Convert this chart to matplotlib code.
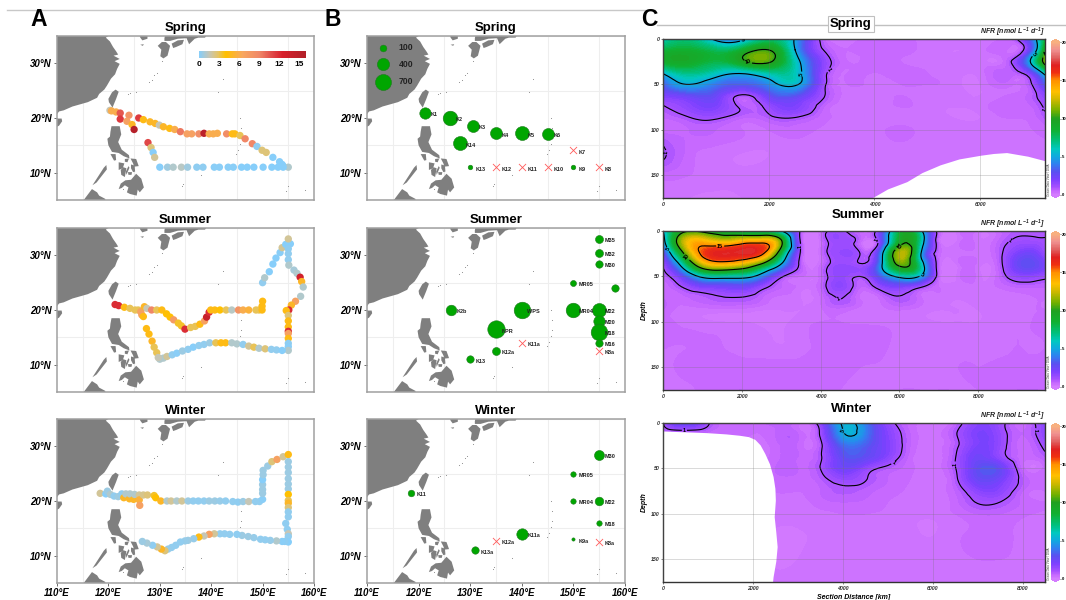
import numpy as np
import matplotlib
matplotlib.use("Agg")
import matplotlib.pyplot as plt
from matplotlib.colors import LinearSegmentedColormap, Normalize
from matplotlib.cm import ScalarMappable
from matplotlib.lines import Line2D
from matplotlib.tri import Triangulation, UniformTriRefiner

plt.rcParams["font.family"] = ["Liberation Sans", "DejaVu Sans"]
plt.rcParams["mathtext.fontset"] = "custom"
plt.rcParams["mathtext.rm"] = "Liberation Sans:bold:italic"
plt.rcParams["mathtext.it"] = "Liberation Sans:bold:italic"

W, H = 1066, 600

# --- land outlines (lon, lat) ---
china = [(110, 35), (120, 35), (119.5, 34.7), (120.3, 34), (120.9, 33), (121.5, 32.2), (121.9, 31.6), (121.0, 31.4), (122.2, 30.8), (121.2, 30.4),
         (122.2, 29.9), (121.7, 29), (121.3, 28), (120.5, 27.2), (119.7, 25.9), (119.2, 25.2), (118.2, 24.4), (117.8, 23.7), (116, 22.9),
         (114.5, 22.5), (113, 22.1), (111.3, 21.4), (110.4, 21.2), (110, 20.7)]
hainan = [(110, 19.9), (110.9, 19.9), (111, 19.4), (110.4, 18.6), (110, 18.4)]
taiwan = [(121.4, 25.2), (122, 24.8), (121.5, 23.5), (120.8, 21.9), (120.1, 22.9), (120, 23.5), (120.7, 24.7)]
korea = [(126.1, 35), (127.6, 35), (127.6, 34.5), (126.6, 34.2), (126.2, 34.7)]
jeju = [(126.2, 33.4), (126.9, 33.5), (126.7, 33.2)]
kyushu = [(129.6, 33.2), (130.4, 33.9), (131.2, 33.9), (132, 33.2), (131.5, 31.4), (130.7, 30.9), (130.1, 31.3), (130.3, 32.5)]
shikoku = [(132.3, 33.6), (133.5, 34.2), (134.7, 34.3), (134.4, 33.5), (133.2, 33.0), (132.6, 32.8)]
honshu = [(130.9, 34.1), (132, 34.1), (133.5, 34.5), (135.2, 34.6), (135.7, 33.5), (136.8, 34.5), (137.5, 34.7), (138.8, 34.7), (139, 35),
          (131, 35), (130.9, 34.6)]
luzon = [(120.6, 18.5), (122.2, 18.5), (122.5, 17), (121.9, 15.6), (122.6, 14.2), (124, 13.2), (124.1, 12.6), (123, 13), (122, 13.6),
         (120.7, 13.8), (120, 15), (119.8, 16.2), (120.3, 16.6), (120.4, 17.5)]
mindoro = [(120.4, 13.4), (121.4, 13.4), (121.5, 12.3), (121.1, 12.2)]
panay = [(122, 11.9), (123.1, 11.7), (122.8, 10.8), (122, 10.5)]
negros = [(122.9, 11), (123.5, 10.8), (123.2, 9.2), (122.5, 9.6), (122.4, 10.5)]
cebu = [(123.9, 11.2), (124.1, 10.9), (123.5, 9.6), (123.4, 10.2)]
bohol = [(123.8, 10.1), (124.6, 10.1), (124.5, 9.6), (123.9, 9.6)]
leyte = [(124.4, 11.5), (125.1, 11.3), (125.2, 10.2), (124.8, 10.1), (124.4, 10.8)]
samar = [(124.3, 12.6), (125.4, 12.5), (125.9, 11.2), (125, 11.1), (124.8, 11.7)]
masbate = [(123.2, 12.5), (124, 12.6), (123.7, 11.9), (123.2, 12)]
palawan = [(116.9, 7.7), (117.7, 8.2), (119.7, 10.6), (119.6, 11.4), (119.1, 10.9)]
mindanao = [(122, 7.0), (122.4, 8), (123.3, 8.6), (124.4, 8.7), (125.4, 9.8), (126.4, 8.9), (126.9, 7.3), (126.1, 6.4), (125.7, 6.9), (125.5, 5.8),
            (124.2, 6.1), (123.6, 6.4), (123.9, 7.3), (123.2, 7.7), (122.6, 7.2)]
borneo = [(115.2, 5), (116.4, 6.5), (116.8, 7), (117.8, 6.4), (118.2, 5.8), (119.4, 5.2), (119.4, 5)]
land_shapes = [china, hainan, taiwan, korea, jeju, kyushu, shikoku, honshu, luzon, mindoro, panay, negros, cebu, bohol, leyte,
               samar, masbate, palawan, mindanao, borneo]
islet_lon = [127.9, 128.4, 128.9, 129.4, 130.5, 125.3, 124.2, 123.8, 142.2, 141.3, 145.7, 145.3, 144.8, 145.8, 145.8, 145.6, 158.2, 134.4, 134.6, 138.1, 122.9, 154.5, 154.9]
islet_lat = [26.5, 27, 27.8, 28.3, 30.4, 24.8, 24.5, 24.3, 27.1, 24.8, 15.2, 14.1, 13.4, 16.4, 18.1, 20, 6.9, 7.5, 8, 9.5, 7, 6.6, 7.6]

# --- panel A tracks ---
spring_track_lon = [120.3, 120.6, 121.5, 122.3, 124, 125.9, 122.3, 123.6, 124.6, 125, 126.8, 128.1, 129.1, 129.9, 130.7, 131.9, 132.9, 134,
                    135.3, 136.2, 137.6, 138.6, 139.6, 140.4, 141.2, 143, 144.1, 144.6, 145.6, 146.6, 148, 148.9, 149.9, 150.7, 152, 153.3, 153.8, 154, 155,
                    130, 131.5, 132.6, 134.2, 135.4, 137.2, 138.4, 140.6, 141.6, 143.3, 144.3, 145.9, 147, 148.3, 150.1, 151.8, 153, 154,
                    127.7, 128.3, 128.7, 129]
spring_track_lat = [21.4, 21.3, 21.1, 20.9, 20.5, 20, 19.8, 19.4, 18.8, 17.9, 19.7, 19.3, 19, 18.7, 18.4, 18.1, 17.9, 17.5,
                    17.1, 17.1, 17.1, 17.2, 17.1, 17.1, 17.2, 17.1, 17.1, 17.1, 16.8, 16.2, 15.3, 14.8, 14.1, 13.7, 12.8, 12, 11.5, 11.2, 11,
                    11, 11, 11, 11, 11, 11, 11, 11, 11, 11, 11, 11, 11, 11, 11, 11, 11, 11,
                    15.5, 14.6, 13.7, 12.8]
spring_track_val = [1.5, 6, 6, 10.5, 8, 11.5, 11.5, 7, 5, 15.5, 4.5, 5, 5, 1.5, 5, 4.5, 6, 9.5,
                    7, 7, 8.5, 15, 6, 6, 6, 8.5, 4.5, 4.5, 3, 9, 9, 0.2, 2.5, 2.5, 0, 0, 0, 0, 1,
                    0, 0.6, 1, 1.2, 0.6, 0.2, 0.2, 0.1, 0.1, 0.1, 0.1, 0, 0, 0, 0, 0, 0, 0,
                    11, 2.5, 0, 2]

summer_track_lon = [121.3, 122, 123.1, 124.2, 125.2, 125.8, 126.3, 126.5, 126.8, 127, 127.5, 128.4, 129.4, 130.4, 131.3, 132, 132.7, 133.6, 134.2, 134.9,
                    136, 136.9, 137.8, 138.7, 139.1, 139.6, 139.9, 140.7, 141.7, 142.9, 144, 145.3, 146.2, 147.3, 148.7, 149.3, 149.9, 149.9, 150,
                    150, 150.4, 151.3, 152, 152.6, 153.4, 153.8, 154.5, 155.4, 155, 155, 155, 155, 155.1, 156.1, 156.7, 157.3, 157.6, 157.9, 157.4, 156.4, 155.6, 155.1, 154.6,
                    155, 155, 155, 155, 155, 155, 155, 155, 155,
                    130, 130.7, 131.4, 132.4, 133.3, 134.4, 135.5, 136.5, 137.6, 138.6, 139.7, 140.9, 141.9, 142.8, 144, 145, 146.2, 147.3, 148.3, 149.3, 150.5, 151.7, 152.7, 153.8,
                    127.4, 127.9, 128.5, 128.9, 129.4, 129.7]
summer_track_lat = [21, 20.8, 20.5, 20.3, 20, 20, 19.7, 19.1, 18.8, 20.6, 20.3, 20, 20, 20, 19.3, 18.7, 18.2, 17.6, 17.1, 16.5,
                    16.8, 17, 17.4, 18, 18.7, 19.6, 20, 20, 20, 20, 20, 20, 20, 20, 20, 20, 20, 20.7, 21.6,
                    25, 25.9, 27, 28.4, 29.5, 30.5, 31.4, 32, 32.1, 33, 31.2, 30.3, 29.2, 28.2, 27.3, 26.7, 26, 25.2, 24.2, 22.5, 21.6, 20.9, 20, 19.9,
                    19, 18, 16.9, 16.1, 15.7, 14.8, 13.9, 13.3, 12.6,
                    11, 11.2, 11.5, 11.8, 12.1, 12.5, 12.8, 13.2, 13.5, 13.7, 14, 14, 14, 14, 14, 13.8, 13.7, 13.4, 13.2, 13, 12.9, 12.8, 12.7, 12.6,
                    16.6, 15.6, 14.3, 13.2, 12.2, 11.3]
summer_track_val = [12, 12, 4.5, 3, 3, 3, 7, 7, 4.5, 5, 1.5, 9, 3, 4.5, 4, 4, 7.5, 3.5, 3.5, 12,
                    3, 3, 4.5, 7, 14, 12, 4.5, 4.5, 4, 3, 1.2, 8, 6, 5.5, 3, 3, 4.5, 4.5, 4.5,
                    0.3, 1, 0, 0, 0, 0.1, 2, 0, 0, 2, 0.2, 0.3, 0.3, 1, 0.8, 1, 13, 5, 1, 1, 7, 5, 12, 4.5,
                    2.5, 4.5, 4.5, 12, 7, 4.5, 0.2, 0.1, 1,
                    1, 1, 2, 0.3, 0.1, 0.5, 0.3, 0, 0.3, 0.3, 0.5, 3, 4.5, 4.5, 1, 1, 0.3, 2, 3, 1, 2.5, 0.3, 0.3, 0,
                    4.5, 4.5, 5, 3, 3, 1.5]

winter_track_lon = [118.4, 119.5, 119.8, 120.4, 121.1, 121.9, 122.6, 123, 123.4, 124.1, 124.2, 124.9, 125.1, 126, 126, 126.1, 126.8, 127.6, 128.9, 129.2, 130.2,
                    131.4, 132.2, 133.3, 134.3, 135.5, 136.5, 137.5, 138.6, 139.6, 140.7, 141.7, 142.8, 144.2, 145.2, 146.2, 147.3, 148.6, 149.4,
                    150, 150, 150, 150, 150, 150.1, 150.1, 151, 151.8, 152.8, 154, 155,
                    155, 155, 155, 155, 155, 155, 155, 155, 155, 155, 155, 155, 154.5, 154.8, 155, 155, 155, 154.3, 153.8,
                    152.7, 151.5, 150.5, 149.6, 148.3, 147.2, 146, 145, 143.6, 142.6, 141.7, 140.6, 139.6, 138.6, 137.6, 136.6, 135.5, 134.9, 134, 133.1, 132.3, 131.6, 131,
                    130.3, 129.5, 128.6, 127.5, 126.6]
winter_track_lat = [21.4, 21.3, 21.8, 21.2, 20.9, 20.8, 21.3, 20.6, 21.3, 20.4, 21.3, 20.3, 21.2, 21.1, 20.2, 19.2, 21.1, 21.1, 21, 20.6, 20,
                    20, 20, 20, 20, 20, 20, 20, 20, 20, 20, 20, 20, 19.9, 19.8, 19.9, 19.9, 19.9, 19.9,
                    20.3, 21.4, 22.1, 23, 23.9, 24.8, 25.6, 26.4, 27.2, 27.6, 28.1, 28.5,
                    27.2, 26.2, 25.2, 24.1, 23.1, 22.2, 21.2, 20.1, 19.6, 18.8, 18, 17.1, 15.9, 14.8, 14, 13.5, 12.5, 12.6, 12.6,
                    12.7, 12.8, 12.9, 13, 13.3, 13.5, 13.7, 13.9, 13.9, 14, 14, 14, 13.9, 13.6, 13.4, 13.1, 12.8, 12.7, 12.5, 11.9, 11.5, 11.2, 10.9,
                    11.2, 11.6, 11.9, 12.3, 12.6]
winter_track_val = [2, 0, 0.5, 1, 0.3, 0.6, 0.3, 5, 1, 5, 1, 5, 1, 2, 5.5, 7, 2.2, 2.5, 3.5, 4, 5,
                    1, 2, 1, 2, 0.5, 0.3, 0.3, 0.3, 0.5, 0.5, 0.4, 0.3, 0.3, 0.2, 0.5, 1.5, 0.3, 0.3,
                    0.1, 0.5, 0.5, 0.5, 0, 0.5, 0.5, 0.5, 2.5, 7, 2, 4.5,
                    0.5, 0.5, 0.5, 0.5, 0.5, 0.5, 4, 3, 5, 2.5, 0.3, 0.3, 0.2, 0.2, 1.5, 0.3, 0, 0.2, 0.1,
                    1, 0.4, 0.3, 0.3, 0.4, 0.5, 0.5, 0.2, 0.3, 0.3, 0.3, 2, 7, 1.5, 4.5, 0.4, 0.5, 0.4, 0.3, 0.3, 0.3, 0.4, 2.5,
                    5, 2, 0.2, 0.8, 0.5]

track_ticks = [0, 3, 6, 9, 12, 15]

# --- panel B stations, value 0 means not detected (cross) ---
spring_names = ["K1", "K2", "K3", "K4", "K5", "K6", "K7", "K8", "K9", "K10", "K11", "K12", "K13", "K14"]
spring_lon = [121.3, 126, 130.5, 135, 140, 145, 150, 155, 150, 145, 140, 135, 130, 128]
spring_lat = [21, 20, 18.6, 17.2, 17.2, 17.1, 14.1, 11, 11, 11, 11, 11, 11, 15.4]
spring_rate = [341, 577, 381, 381, 528, 381, 0, 0, 32, 0, 0, 0, 32, 528]

summer_names = ["M35", "M32", "M30", "MR05", "", "K2b", "WPS", "MR04", "M22", "M20", "M18", "M16", "K8a", "K11a", "NPR", "K12a", "K13"]
summer_lon = [155, 155, 155, 150, 158, 126.3, 140, 150, 155, 155, 155, 155, 155, 140, 135, 135, 130]
summer_lat = [33, 30.5, 28.5, 25, 24, 20, 20, 20, 20, 18, 16, 14, 12.5, 14, 16.5, 12.5, 11]
summer_rate = [153, 153, 127, 74, 127, 290, 755, 577, 528, 341, 755, 127, 0, 0, 832, 153, 127]

winter_names = ["M30", "MR05", "K11", "MR04", "M22", "M18", "K11a", "K9a", "K12a", "K8a", "K13a"]
winter_lon = [155, 150, 118.5, 150, 155, 155, 140, 150, 135, 155, 131]
winter_lat = [28.5, 25, 21.5, 20, 20, 16, 14, 13, 12.7, 12.5, 11]
winter_rate = [256, 55, 95, 55, 182, 55, 341, 1, 0, 0, 127]

size_legend = [100, 400, 700]

# --- panel C sections ---
section_depth = [0, 12, 25, 37, 50, 62, 75, 87, 100, 125, 150, 175]

spring_dist = [0, 500, 1000, 1500, 2000, 2500, 3000, 3500, 4000, 4500, 5000, 5500, 6000, 6500, 7000, 7226]
spring_nfr = [
    [6, 7, 4.5, 4.5, 7, 4.8, 0.8, 0.3, 0.4, 0.5, 0.3, 0.3, 0.3, 0.4, 4, 8],
    [8, 8.5, 7.5, 8.5, 10, 5, 1.1, 0.4, 0.5, 0.5, 0.3, 0.2, 0.3, 0.4, 3.5, 9.5],
    [8.5, 9, 8, 9.5, 10.3, 6, 1.8, 0.4, 0.5, 0.4, 0.3, 0.3, 0.3, 0.6, 6, 11],
    [5.3, 7, 6, 5.3, 6.5, 6, 1.6, 0.4, 0.4, 0.5, 0.4, 0.3, 0.3, 0.7, 2.5, 6],
    [3.2, 5, 3.8, 3.2, 4.2, 5.3, 1.5, 0.4, 0.3, 0.4, 0.4, 0.3, 0.2, 0.5, 1.1, 3],
    [2, 2.6, 2.5, 0.9, 2.5, 3, 1.2, 0.3, 0.3, 0.4, 0.3, 0.3, 0.2, 0.4, 0.8, 1.6],
    [0.9, 1.6, 1.9, 0.85, 1.3, 1.9, 0.7, 0.3, 0.3, 0.4, 0.3, 0.2, 0.3, 0.5, 0.6, 1.1],
    [0.6, 0.95, 1.1, 0.6, 0.8, 0.95, 0.5, 0.3, 0.3, 0.3, 0.3, 0.2, 0.2, 0.4, 0.5, 0.8],
    [0.5, 0.6, 0.6, 0.4, 0.4, 0.5, 0.35, 0.2, 0.3, 0.45, 0.3, 0.3, 0.3, 0.3, 0.4, 0.5],
    [1.1, 0.5, 0.3, 0.2, 0.2, 0.3, 0.3, 0.3, 0.3, 0.3, 0.3, 0.35, 0.3, 0.3, 0.3, 0.3],
    [0.5, 0.4, 0.3, 0.25, 0.3, 0.3, 0.3, 0.3, 0.3, 0.3, 0.3, 0.3, 0.3, 0.3, 0.3, 0.3],
    [0.4, 0.2, 0.1, 0.2, 0.3, 0.3, 0.3, 0.3, 0.3, 0.3, 0.3, 0.3, 0.3, 0.3, 0.3, 0.3],
]
spring_gap_dist = [3950, 4250, 4612, 4900, 5243, 5600, 6000, 6250, 6500, 6900, 7226]
spring_gap_depth = [175, 165, 157, 147, 138.5, 132, 128, 126, 125, 129, 134]

summer_dist = [0, 500, 1000, 1500, 2000, 2500, 3000, 3500, 4000, 4500, 5000, 5500, 6000, 6500, 7000, 7500, 8000, 8500, 9000, 9500, 9695]
summer_nfr = [
    [5, 9.5, 9.5, 8.5, 7, 6.5, 5, 0.8, 0.3, 1.2, 0.4, 1.8, 8, 6, 0.5, 0.3, 0.3, 0.5, 0.8, 0.8, 0.7],
    [4, 12, 14, 13, 14, 14.5, 10.5, 0.8, 0.3, 1.3, 0.5, 1.6, 9, 7, 0.4, 0.3, 0.3, 0.6, 1.2, 1.2, 1.1],
    [2, 9.5, 15.5, 17, 17, 15.5, 8, 0.8, 0.4, 1.4, 1, 3.5, 12, 6, 0.5, 0.3, 0.3, 0.7, 2, 2, 1.3],
    [1.1, 6, 12, 13.5, 12.5, 9.5, 4.8, 0.7, 0.4, 1.4, 1.1, 4, 10.5, 7, 0.5, 0.3, 0.3, 0.6, 2.5, 2.6, 2],
    [0.6, 2.5, 5.5, 6, 5.8, 4, 1.2, 0.4, 0.5, 1.5, 1, 3, 5.5, 5, 0.5, 0.3, 0.3, 0.5, 1.5, 1.4, 1.2],
    [0.5, 1, 1.8, 2, 2.2, 1.3, 0.6, 0.3, 0.6, 1.6, 0.6, 1.3, 1.8, 1.1, 0.4, 0.3, 0.3, 0.4, 0.6, 0.6, 0.6],
    [0.6, 0.5, 0.7, 0.9, 0.9, 0.6, 0.3, 0.2, 0.4, 1, 0.4, 0.4, 0.9, 0.5, 0.3, 0.2, 0.3, 0.3, 0.3, 0.4, 0.4],
    [0.6, 0.3, 0.3, 0.3, 0.3, 0.2, 0.2, 0.2, 0.35, 0.5, 0.3, 0.3, 0.4, 0.3, 0.2, 0.2, 0.2, 0.3, 0.3, 0.4, 0.4],
    [0.5, 0.35, 0.25, 0.2, 0.2, 0.15, 0.15, 0.3, 0.4, 0.4, 0.35, 0.35, 0.3, 0.25, 0.2, 0.2, 0.2, 0.3, 0.3, 0.45, 0.5],
    [0.45, 0.4, 0.45, 0.4, 0.3, 0.25, 0.2, 0.3, 0.45, 0.45, 0.55, 0.5, 0.3, 0.3, 0.3, 0.3, 0.35, 0.3, 0.4, 0.35, 0.4],
    [0.3, 0.45, 0.5, 0.55, 0.5, 0.5, 0.5, 0.5, 0.5, 0.45, 0.4, 0.35, 0.3, 0.35, 0.35, 0.4, 0.4, 0.45, 0.5, 0.5, 0.5],
    [0.2, 0.3, 0.45, 0.55, 0.6, 0.55, 0.5, 0.5, 0.45, 0.4, 0.3, 0.3, 0.4, 0.4, 0.4, 0.4, 0.4, 0.55, 0.6, 0.6, 0.6],
]

winter_dist = [0, 500, 1000, 1500, 2000, 2500, 3000, 3500, 4000, 4500, 5000, 5500, 6000, 6500, 7000, 7500, 8000, 8500]
winter_nfr = [
    [0.9, 2.8, 1.1, 0.5, 0.5, 0.7, 0.5, 1.6, 5.2, 3.8, 1.4, 0.5, 0.3, 0.6, 1.8, 1.3, 0.5, 1.8],
    [0.5, 0.5, 0.5, 0.5, 0.4, 0.6, 0.6, 1.1, 4.8, 4, 1.8, 0.6, 0.3, 0.9, 2, 1.4, 0.6, 1.6],
    [0.3, 0.3, 0.3, 0.3, 0.3, 0.5, 0.55, 0.8, 3.4, 3.2, 1.9, 0.6, 0.3, 0.8, 2, 1.4, 0.5, 1.2],
    [0.3, 0.3, 0.3, 0.3, 0.3, 0.5, 0.6, 0.9, 2.8, 2.8, 1.7, 0.5, 0.25, 0.95, 2.3, 1.4, 0.5, 0.8],
    [0.3, 0.3, 0.3, 0.3, 0.3, 0.6, 0.6, 1, 2.3, 1.5, 0.8, 0.45, 0.3, 0.95, 2.8, 2.6, 0.5, 0.5],
    [0.3, 0.3, 0.3, 0.3, 0.3, 0.5, 0.5, 0.75, 1.4, 1.05, 0.6, 0.4, 0.3, 0.8, 2.5, 2.2, 0.8, 0.5],
    [0.3, 0.3, 0.3, 0.3, 0.3, 0.4, 0.4, 0.6, 0.85, 0.7, 0.5, 0.35, 0.3, 0.6, 1.6, 1.6, 0.6, 0.4],
    [0.3, 0.3, 0.3, 0.3, 0.3, 0.3, 0.3, 0.5, 0.6, 0.55, 0.4, 0.3, 0.3, 0.5, 1.05, 1, 0.55, 0.4],
    [0.3, 0.3, 0.3, 0.3, 0.3, 0.25, 0.3, 0.35, 0.4, 0.4, 0.35, 0.25, 0.25, 0.4, 0.6, 0.6, 0.45, 0.35],
    [0.3, 0.3, 0.3, 0.3, 0.3, 0.15, 0.15, 0.25, 0.3, 0.35, 0.3, 0.25, 0.2, 0.35, 0.45, 0.45, 0.35, 0.2],
    [0.3, 0.3, 0.3, 0.3, 0.3, 0.15, 0.2, 0.3, 0.3, 0.35, 0.35, 0.3, 0.3, 0.35, 0.4, 0.4, 0.35, 0.2],
    [0.3, 0.3, 0.3, 0.3, 0.3, 0.3, 0.3, 0.3, 0.3, 0.3, 0.3, 0.3, 0.3, 0.3, 0.3, 0.3, 0.3, 0.3],
]
winter_gap_depth = [8.8, 10.6, 12, 13.5, 15, 18, 24, 33.6, 45, 59, 72, 85, 103, 120, 136, 152, 169, 175]
winter_gap_dist = [0, 966, 1400, 1700, 1900, 2043, 2160, 2266, 2370, 2450, 2490, 2500, 2474, 2510, 2540, 2510, 2450, 2437]

nfr_ticks = [0, 5, 10, 15, 20]
contour_levels = [1, 5, 10, 15]

track_stops = [(0, "#87CEFA"), (1.5, "#C6C6B6"), (2.8, "#E4C468"), (4, "#FFC000"), (6.5, "#F8A860"),
               (9, "#F08868"), (11, "#E04848"), (12.5, "#D8202C"), (16, "#B02028")]
track_cmap = LinearSegmentedColormap.from_list("track", [(v / 16, c) for v, c in track_stops])
track_norm = Normalize(0, 16)

nfr_stops = [(0, "#D47CFF"), (0.5, "#C668FF"), (1, "#A650FF"), (2, "#7C40FF"), (3, "#5A50F0"), (4, "#3080F0"), (5, "#10A8E0"),
             (6, "#00C8C0"), (7, "#00C080"), (8.5, "#10B030"), (10, "#20A020"), (11, "#70B000"), (12.5, "#D0B800"), (13.5, "#FFC000"),
             (15, "#FF9000"), (16, "#F03010"), (17, "#E02020"), (18, "#E06060"), (19, "#F09090"), (20, "#F8B080")]
nfr_cmap = LinearSegmentedColormap.from_list("nfr", [(v / 20, c) for v, c in nfr_stops])
nfr_cmap.set_under("#D47CFF")
nfr_cmap.set_over("#F8B080")
nfr_norm = Normalize(0, 20)
fill_levels = np.concatenate([np.arange(0, 2, 0.2), np.arange(2, 20.1, 0.25)])


def pixel_axes(fig, x0, y0, x1, y1):
    return fig.add_axes([x0 / W, 1 - y1 / H, (x1 - x0) / W, (y1 - y0) / H])


def style_labels(labels, size):
    for lab in labels:
        lab.set_fontweight("bold")
        lab.set_fontstyle("italic")
        lab.set_fontsize(size)


def draw_base_map(ax, title, show_lon):
    for shape in land_shapes:
        ax.fill(*zip(*shape), color="#7F7F7F", lw=0, zorder=2)
    ax.scatter(islet_lon, islet_lat, s=0.6, color="#8A8A8A", lw=0, zorder=2)
    ax.set_xlim(110, 160)
    ax.set_ylim(5, 35)
    ax.set_xticks(range(110, 161, 5), minor=True)
    ax.set_yticks(range(5, 36, 5), minor=True)
    ax.grid(True, which="minor", color="#EEEEEE", lw=0.8, zorder=1)
    ax.set_axisbelow(True)
    ax.set_yticks([10, 20, 30])
    ax.set_yticklabels(["10°N", "20°N", "30°N"])
    ax.set_xticks(range(110, 161, 10))
    ax.set_xticklabels([f"{v}°E" for v in range(110, 161, 10)] if show_lon else [])
    ax.tick_params(which="minor", length=0)
    ax.tick_params(which="major", length=2 if show_lon else 0, width=0.6, pad=1.5, color="#555555")
    ax.tick_params(axis="y", which="major", length=2.5)
    style_labels(ax.get_xticklabels() + ax.get_yticklabels(), 7)
    for sp in ax.spines.values():
        sp.set_color("#A0A0A0")
        sp.set_linewidth(1.1)
    ax.set_title(title, fontsize=9.5, fontweight="bold", pad=3.5)


def marker_area(rate):
    # squared radius in px grows linearly with the rate
    r2 = 2.5 + 0.088 * np.asarray(rate, dtype=float)
    return (2 * np.sqrt(r2) * 0.72) ** 2


def draw_stations(ax, names, lon, lat, rate):
    for name, x, y, v in zip(names, lon, lat, rate):
        if v == 0:
            ax.scatter(x, y, marker="x", s=26, color="#FF5A5A", lw=0.6, zorder=3)
        else:
            ax.scatter(x, y, s=marker_area(v), color="#00A600", edgecolor="#1E7A1E", lw=0.4, zorder=3)
        ax.text(x + 1.1, y - 0.35, name, fontsize=4, fontweight="bold", color="#222222", va="center", zorder=4)


def draw_section(ax, dist, depth, field, gap=None, gap_vertical=False, ylabel=False, xlabel=False):
    xx, dd = np.meshgrid(dist, depth)
    tri = Triangulation(xx.ravel(), dd.ravel())
    tri_fine, z_fine = UniformTriRefiner(tri).refine_field(np.ravel(field), subdiv=3)
    z_fine = np.clip(z_fine, 0.01, 19.99)
    ax.tricontourf(tri_fine, z_fine, levels=fill_levels, cmap=nfr_cmap, norm=nfr_norm, antialiased=False, zorder=1)
    cs = ax.tricontour(tri_fine, z_fine, levels=contour_levels, colors="black", linewidths=0.8, zorder=2)
    labs = ax.clabel(cs, fmt="%d", fontsize=4, inline=True, inline_spacing=1)
    for lab in labs:
        lab.set_fontweight("bold")
    if gap is not None:
        if gap_vertical:
            ax.fill_betweenx(gap[1], 0, gap[0], color="white", lw=0, zorder=2.2)
        else:
            ax.fill_between(gap[0], gap[1], 175, color="white", lw=0, zorder=2.2)
    ax.set_xlim(dist[0], dist[-1])
    ax.set_ylim(175, 0)
    ax.set_xticks(np.arange(0, dist[-1], 2000))
    ax.set_yticks([0, 50, 100, 150])
    ax.grid(True, color="#707070", alpha=0.3, lw=0.6)
    ax.set_axisbelow(False)
    ax.tick_params(length=1.2, width=0.4, pad=1.5, color="#333333", labelcolor="#333333")
    style_labels(ax.get_xticklabels() + ax.get_yticklabels(), 3.8)
    for sp in ax.spines.values():
        sp.set_color("#333333")
        sp.set_linewidth(1)
    if ylabel:
        ax.set_ylabel("Depth", fontsize=5, fontweight="bold", fontstyle="italic", labelpad=2)
    if xlabel:
        ax.set_xlabel("Section Distance [km]", fontsize=5, fontweight="bold", fontstyle="italic", labelpad=2)
    ax.text(1.0, 1.0, r"$NFR\ [nmol\ L^{-1}\ d^{-1}]$", transform=ax.transAxes, ha="right", va="bottom", fontsize=5, color="#222222")
    ax.text(1.006, 0.01, "Ocean Data View / DIVA", transform=ax.transAxes, rotation=90, fontsize=2.2, color="#444444", va="bottom", ha="left")


fig = plt.figure(figsize=(W / 100, H / 100), dpi=100)

map_rows = [(36, 200), (228, 392), (419, 583)]
section_rows = [(39, 198), (231, 390), (423, 582)]
titles = ["Spring", "Summer", "Winter"]

# Panel A
tracks = [(spring_track_lon, spring_track_lat, spring_track_val),
          (summer_track_lon, summer_track_lat, summer_track_val),
          (winter_track_lon, winter_track_lat, winter_track_val)]
for i, (top, bottom) in enumerate(map_rows):
    ax = pixel_axes(fig, 57, top, 314, bottom)
    draw_base_map(ax, titles[i], i == 2)
    lon, lat, val = tracks[i]
    ax.scatter(lon, lat, c=val, cmap=track_cmap, norm=track_norm, s=28, lw=0, zorder=3)

cax = pixel_axes(fig, 199, 51, 306, 58)
cb = fig.colorbar(ScalarMappable(norm=track_norm, cmap=track_cmap), cax=cax, orientation="horizontal", ticks=track_ticks)
cb.outline.set_visible(False)
cb.ax.tick_params(length=0, pad=2.5, labelsize=6)
for lab in cb.ax.get_xticklabels():
    lab.set_fontweight("bold")

# Panel B
stations = [(spring_names, spring_lon, spring_lat, spring_rate),
            (summer_names, summer_lon, summer_lat, summer_rate),
            (winter_names, winter_lon, winter_lat, winter_rate)]
for i, (top, bottom) in enumerate(map_rows):
    ax = pixel_axes(fig, 367, top, 625, bottom)
    draw_base_map(ax, titles[i], i == 2)
    draw_stations(ax, *stations[i])
    if i == 0:
        for rate, yf in zip(size_legend, [0.927, 0.829, 0.72]):
            ax.scatter(0.061, yf, s=marker_area(rate), color="#00A600", edgecolor="#1E7A1E", lw=0.4,
                       transform=ax.transAxes, zorder=5)
            ax.text(0.123, yf, str(rate), transform=ax.transAxes, fontsize=6.2, fontweight="bold", color="#222222",
                    va="center", zorder=5)

# Panel C
sections = [(spring_dist, spring_nfr, (spring_gap_dist, spring_gap_depth), False),
            (summer_dist, summer_nfr, None, False),
            (winter_dist, winter_nfr, (winter_gap_dist, winter_gap_depth), True)]
for i, (top, bottom) in enumerate(section_rows):
    ax = pixel_axes(fig, 663, top, 1045, bottom)
    dist, nfr, gap, vertical = sections[i]
    draw_section(ax, dist, section_depth, nfr, gap, vertical, ylabel=i > 0, xlabel=i == 2)
    cax = pixel_axes(fig, 1051, top, 1060, bottom)
    cb = fig.colorbar(ScalarMappable(norm=nfr_norm, cmap=nfr_cmap), cax=cax, extend="both", extendfrac=0.02, ticks=nfr_ticks)
    cb.outline.set_visible(False)
    cb.ax.tick_params(length=0.8, width=0.4, pad=0.3, labelsize=3.1)
    for lab in cb.ax.get_yticklabels():
        lab.set_fontweight("bold")

# panel letters, rules and section headings
for letter, x in zip("ABC", [30, 324, 641]):
    fig.text(x / W, 1 - 26 / H, letter, fontsize=16.5, fontweight="bold", ha="left", va="baseline")

fig.add_artist(Line2D([7 / W, 655 / W], [1 - 10 / H] * 2, color="#C8C8C8", lw=1))
fig.add_artist(Line2D([657 / W, 1066 / W], [1 - 25 / H] * 2, color="#C0C0C0", lw=1))
for title, x, y, boxed in zip(titles, [851, 858, 852], [24, 215, 409], [True, False, False]):
    box = dict(boxstyle="square,pad=0.15", facecolor="white", edgecolor="#C0C0C0", lw=0.8) if boxed else None
    fig.text(x / W, 1 - y / H, title, fontsize=9.5, fontweight="bold", ha="center", va="center", bbox=box)

fig.savefig("out.png", dpi=100)
